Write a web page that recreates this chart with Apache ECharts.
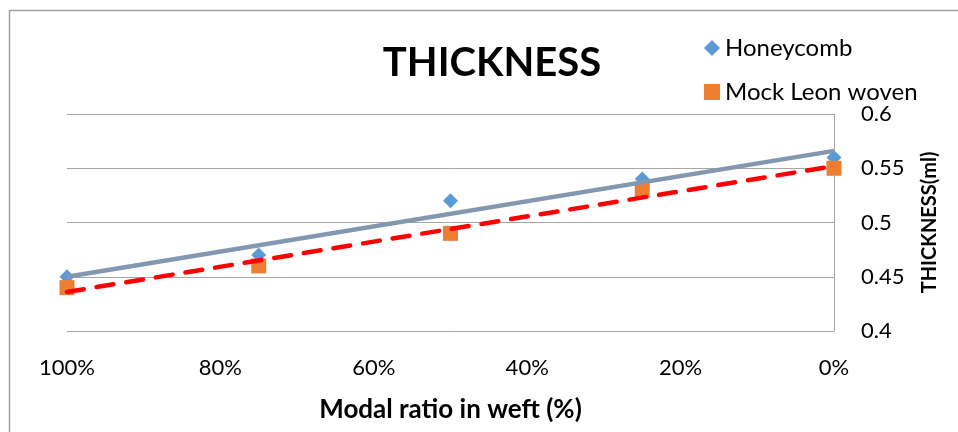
<!DOCTYPE html>
<html>
<head>
<meta charset="utf-8">
<script src="https://cdn.jsdelivr.net/npm/echarts@6/dist/echarts.min.js"></script>
<style>html,body{margin:0;padding:0;background:#fff}#c{width:958px;height:432px}</style>
</head>
<body>
<div id="c"></div>
<script>
const ratios = [100, 75, 50, 25, 0];
const honeycomb = [0.45, 0.47, 0.52, 0.54, 0.56];
const mockLeon = [0.44, 0.46, 0.49, 0.53, 0.55];
const xTicks = [0, 20, 40, 60, 80, 100];
const yTicks = [0.4, 0.45, 0.5, 0.55, 0.6];

function linFit(xs, ys) {
  const n = xs.length;
  const mx = xs.reduce((a, b) => a + b, 0) / n;
  const my = ys.reduce((a, b) => a + b, 0) / n;
  let sxy = 0, sxx = 0;
  for (let i = 0; i < n; i++) { sxy += (xs[i] - mx) * (ys[i] - my); sxx += (xs[i] - mx) ** 2; }
  const b = sxy / sxx, a = my - b * mx;
  const lo = Math.min(...xs), hi = Math.max(...xs);
  return [[hi, a + b * hi], [lo, a + b * lo]];
}
const pts = (ys) => ratios.map((x, i) => [x, ys[i]]);
const FONT = 'Lato, "Open Sans", sans-serif';

const chart = echarts.init(document.getElementById('c'), null, { renderer: 'canvas' });
chart.setOption({
  animation: false,
  backgroundColor: '#fff',
  textStyle: { fontFamily: FONT },
  title: {
    text: 'THICKNESS', left: 487, top: 38, textAlign: 'center',
    textStyle: { fontFamily: FONT, fontWeight: 'bold', fontSize: 40, color: '#000' }
  },
  legend: {
    orient: 'vertical', left: 699, top: 31, itemGap: 20, itemWidth: 16, itemHeight: 16,
    textStyle: { fontFamily: FONT, fontSize: 24, color: '#000' },
    data: [
      { name: 'Honeycomb', icon: 'diamond', itemStyle: { color: '#5B9BD5' } },
      { name: 'Mock Leon woven', icon: 'rect', itemStyle: { color: '#ED7D31' } }
    ]
  },
  grid: { left: 67, right: 124, top: 114, bottom: 101 },
  xAxis: {
    type: 'value', inverse: true, min: 0, max: 100, interval: 20,
    name: 'Modal ratio in weft (%)', nameLocation: 'middle', nameGap: 66,
    nameTextStyle: { fontFamily: FONT, fontWeight: 'bold', fontSize: 26, color: '#000' },
    axisLine: { show: false }, axisTick: { show: false },
    splitLine: { show: false },
    axisLabel: { fontFamily: FONT, fontSize: 22, color: '#000', margin: 26,
      formatter: v => xTicks.includes(v) ? v + '%' : '' }
  },
  yAxis: {
    type: 'value', position: 'right', min: 0.4, max: 0.6, interval: 0.05,
    name: 'THICKNESS(ml)', nameLocation: 'middle', nameGap: 86, nameRotate: 90,
    nameTextStyle: { fontFamily: FONT, fontWeight: 'bold', fontSize: 20, color: '#000' },
    axisLine: { show: true, lineStyle: { color: '#A6A6A6', width: 1 } },
    axisTick: { show: false },
    splitLine: { show: true, lineStyle: { color: '#A6A6A6', width: 1 } },
    axisLabel: { fontFamily: FONT, fontSize: 22, color: '#000', margin: 27,
      formatter: v => { const t = yTicks.find(k => Math.abs(k - v) < 1e-9); return t === undefined ? '' : String(t); } }
  },
  series: [
    { name: 'Honeycomb', type: 'scatter', symbol: 'diamond', symbolSize: 15, z: 2,
      itemStyle: { color: '#5B9BD5', opacity: 1 }, data: pts(honeycomb) },
    { name: 'Mock Leon woven', type: 'scatter', symbol: 'rect', symbolSize: 15, z: 2,
      itemStyle: { color: '#ED7D31', opacity: 1 }, data: pts(mockLeon) },
    { name: 'trendH', type: 'line', symbol: 'none', z: 5, silent: true,
      lineStyle: { color: '#8497B0', width: 4.5 }, data: linFit(ratios, honeycomb) },
    { name: 'trendM', type: 'line', symbol: 'none', z: 6, silent: true,
      lineStyle: { color: '#FF0000', width: 4.5, type: [17, 13], cap: 'round' }, data: linFit(ratios, mockLeon) }
  ],
  graphic: [
    { type: 'polyline', silent: true,
      shape: { points: [[9.5, 432], [9.5, 10.5], [958, 10.5]] },
      style: { stroke: '#A0A0A0', lineWidth: 1.5, fill: null } }
  ]
});
</script>
</body>
</html>
